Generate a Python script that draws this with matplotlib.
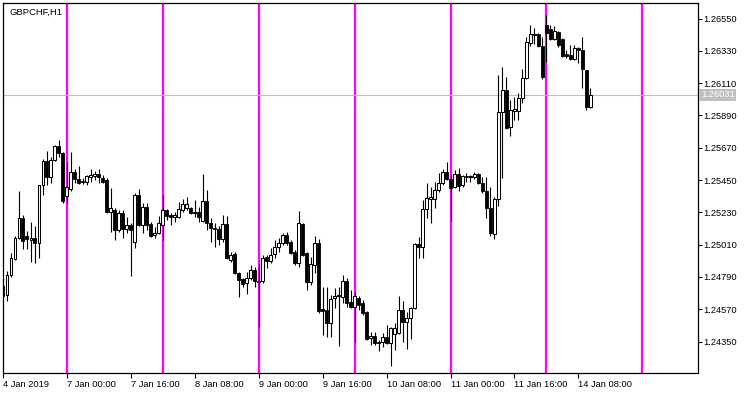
import numpy as np
import matplotlib
matplotlib.use("Agg")
import matplotlib.pyplot as plt
import matplotlib.transforms as mtransforms

plt.rcParams['font.family'] = ['Liberation Sans', 'DejaVu Sans']

# GBPCHF H1 bars, 4 Jan 2019 08:00 .. 14 Jan 2019 11:00
opens = [1.24728, 1.24667, 1.24803, 1.24912, 1.25055, 1.25191, 1.25069, 1.25042, 1.25055, 1.25021,
         1.25416, 1.25580, 1.25471, 1.25586, 1.25682, 1.25634, 1.25341, 1.25389, 1.25505, 1.25457,
         1.25443, 1.25437, 1.25471, 1.25477, 1.25491, 1.25464, 1.25450, 1.25232, 1.25246, 1.25110,
         1.25225, 1.25116, 1.25144, 1.25028, 1.25348, 1.25144, 1.25266, 1.25151, 1.25076, 1.25089,
         1.25144, 1.25246, 1.25212, 1.25198, 1.25198, 1.25246, 1.25260, 1.25260, 1.25225, 1.25232,
         1.25171, 1.25307, 1.25157, 1.25123, 1.25116, 1.25048, 1.25151, 1.24905, 1.24946, 1.24817,
         1.24776, 1.24749, 1.24783, 1.24837, 1.24762, 1.24762, 1.24926, 1.24899, 1.24946, 1.24994,
         1.25021, 1.25076, 1.25028, 1.24960, 1.24885, 1.25151, 1.24953, 1.24756, 1.24871, 1.25021,
         1.24572, 1.24565, 1.24476, 1.24647, 1.24660, 1.24653, 1.24762, 1.24619, 1.24585, 1.24647,
         1.24613, 1.24551, 1.24374, 1.24388, 1.24347, 1.24347, 1.24381, 1.24340, 1.24402, 1.24408,
         1.24565, 1.24483, 1.24510, 1.24578, 1.25014, 1.24994, 1.25253, 1.25321, 1.25321, 1.25382,
         1.25430, 1.25505, 1.25457, 1.25403, 1.25491, 1.25416, 1.25477, 1.25471, 1.25471, 1.25491,
         1.25430, 1.25375, 1.25260, 1.25083, 1.25321, 1.25913, 1.26063, 1.25811, 1.25920, 1.25920,
         1.26009, 1.26145, 1.26383, 1.26438, 1.26445, 1.26363, 1.26506, 1.26479, 1.26410, 1.26458,
         1.26410, 1.26308, 1.26301, 1.26274, 1.26349, 1.26336, 1.26199, 1.25947]
highs = [1.24742, 1.24830, 1.24953, 1.25069, 1.25375, 1.25212, 1.25103, 1.25164, 1.25137, 1.25416,
         1.25593, 1.25648, 1.25607, 1.25689, 1.25723, 1.25641, 1.25573, 1.25641, 1.25525, 1.25546,
         1.25464, 1.25484, 1.25525, 1.25512, 1.25525, 1.25484, 1.25464, 1.25396, 1.25260, 1.25246,
         1.25246, 1.25198, 1.25157, 1.25362, 1.25389, 1.25294, 1.25294, 1.25164, 1.25130, 1.25205,
         1.25348, 1.25253, 1.25225, 1.25232, 1.25300, 1.25321, 1.25334, 1.25266, 1.25314, 1.25266,
         1.25491, 1.25382, 1.25191, 1.25157, 1.25137, 1.25212, 1.25205, 1.24960, 1.24960, 1.24824,
         1.24783, 1.24824, 1.24871, 1.24858, 1.24878, 1.24939, 1.24939, 1.24987, 1.25042, 1.25055,
         1.25089, 1.25096, 1.25042, 1.24974, 1.25239, 1.25157, 1.24960, 1.24926, 1.25069, 1.25048,
         1.24721, 1.24721, 1.24667, 1.24715, 1.24721, 1.24803, 1.24783, 1.24701, 1.24688, 1.24660,
         1.24633, 1.24558, 1.24415, 1.24415, 1.24361, 1.24408, 1.24463, 1.24449, 1.24476, 1.24660,
         1.24626, 1.24551, 1.24585, 1.25021, 1.25062, 1.25314, 1.25430, 1.25403, 1.25437, 1.25498,
         1.25525, 1.25573, 1.25484, 1.25518, 1.25532, 1.25484, 1.25498, 1.25484, 1.25505, 1.25498,
         1.25471, 1.25471, 1.25403, 1.25334, 1.26165, 1.26220, 1.26152, 1.25995, 1.26015, 1.26043,
         1.26206, 1.26424, 1.26506, 1.26485, 1.26451, 1.26424, 1.26574, 1.26506, 1.26499, 1.26465,
         1.26417, 1.26336, 1.26370, 1.26370, 1.26356, 1.26424, 1.26199, 1.26077]
lows = [1.24647, 1.24626, 1.24790, 1.24905, 1.25048, 1.24980, 1.24980, 1.24892, 1.24885, 1.24919,
        1.25348, 1.25416, 1.25430, 1.25580, 1.25607, 1.25294, 1.25294, 1.25375, 1.25430, 1.25423,
        1.25423, 1.25416, 1.25437, 1.25450, 1.25430, 1.25430, 1.25225, 1.25096, 1.25042, 1.25096,
        1.25055, 1.25089, 1.24796, 1.24987, 1.25137, 1.25089, 1.25110, 1.25062, 1.25055, 1.25083,
        1.25042, 1.25178, 1.25144, 1.25164, 1.25191, 1.25232, 1.25246, 1.25219, 1.25198, 1.25164,
        1.25164, 1.25110, 1.25028, 1.24994, 1.25008, 1.25028, 1.24912, 1.24892, 1.24810, 1.24653,
        1.24721, 1.24674, 1.24769, 1.24721, 1.24449, 1.24749, 1.24851, 1.24885, 1.24919, 1.24960,
        1.25008, 1.25008, 1.24946, 1.24871, 1.24858, 1.24933, 1.24701, 1.24735, 1.24817, 1.24545,
        1.24395, 1.24381, 1.24381, 1.24578, 1.24320, 1.24613, 1.24585, 1.24578, 1.24347, 1.24565,
        1.24531, 1.24361, 1.24327, 1.24327, 1.24286, 1.24313, 1.24333, 1.24184, 1.24293, 1.24402,
        1.24347, 1.24299, 1.24367, 1.24572, 1.24919, 1.24919, 1.25191, 1.25157, 1.25260, 1.25368,
        1.25416, 1.25450, 1.25171, 1.25396, 1.25375, 1.25403, 1.25437, 1.25437, 1.25457, 1.25423,
        1.25362, 1.25191, 1.25069, 1.25048, 1.25273, 1.25464, 1.25797, 1.25750, 1.25859, 1.25859,
        1.25975, 1.26138, 1.26363, 1.26376, 1.26356, 1.26138, 1.26254, 1.26404, 1.26404, 1.26356,
        1.26288, 1.26281, 1.26267, 1.26267, 1.26247, 1.26077, 1.25927, 1.25940]
closes = [1.24660, 1.24803, 1.24919, 1.25055, 1.25191, 1.25035, 1.25048, 1.25055, 1.25021, 1.25416,
          1.25580, 1.25471, 1.25586, 1.25682, 1.25634, 1.25307, 1.25403, 1.25505, 1.25457, 1.25430,
          1.25437, 1.25477, 1.25484, 1.25491, 1.25471, 1.25437, 1.25232, 1.25260, 1.25110, 1.25225,
          1.25116, 1.25144, 1.25110, 1.25348, 1.25144, 1.25266, 1.25144, 1.25069, 1.25089, 1.25157,
          1.25246, 1.25205, 1.25198, 1.25212, 1.25253, 1.25287, 1.25287, 1.25225, 1.25232, 1.25198,
          1.25307, 1.25157, 1.25123, 1.25116, 1.25048, 1.25151, 1.24919, 1.24939, 1.24817, 1.24769,
          1.24742, 1.24783, 1.24837, 1.24762, 1.24756, 1.24919, 1.24899, 1.24939, 1.24994, 1.25021,
          1.25076, 1.25021, 1.24953, 1.24885, 1.25157, 1.24939, 1.24756, 1.24878, 1.25021, 1.24558,
          1.24558, 1.24476, 1.24640, 1.24660, 1.24667, 1.24762, 1.24613, 1.24585, 1.24660, 1.24599,
          1.24545, 1.24367, 1.24388, 1.24340, 1.24340, 1.24381, 1.24340, 1.24442, 1.24442, 1.24565,
          1.24483, 1.24510, 1.24578, 1.25014, 1.24994, 1.25253, 1.25328, 1.25334, 1.25382, 1.25430,
          1.25505, 1.25457, 1.25396, 1.25491, 1.25409, 1.25477, 1.25471, 1.25477, 1.25491, 1.25430,
          1.25375, 1.25260, 1.25089, 1.25321, 1.25913, 1.26063, 1.25804, 1.25927, 1.25934, 1.26009,
          1.26145, 1.26390, 1.26445, 1.26445, 1.26363, 1.26152, 1.26451, 1.26410, 1.26465, 1.26370,
          1.26295, 1.26295, 1.26274, 1.26349, 1.26336, 1.26206, 1.25947, 1.26031]

x_labels = ["4 Jan 2019", "7 Jan 00:00", "7 Jan 16:00", "8 Jan 08:00", "9 Jan 00:00",
            "9 Jan 16:00", "10 Jan 08:00", "11 Jan 00:00", "11 Jan 16:00", "14 Jan 08:00"]
x_label_bars = [0, 16, 32, 48, 64, 80, 96, 112, 128, 144]
day_bars = [16, 40, 64, 88, 112, 136, 160]   # midnight separators
y_ticks = [1.24350, 1.24570, 1.24790, 1.25010, 1.25230, 1.25450,
           1.25670, 1.25890, 1.26110, 1.26330, 1.26550]
last_price = 1.26031

o = np.array(opens); h = np.array(highs); l = np.array(lows); c = np.array(closes)
idx = np.arange(len(o))

fig = plt.figure(figsize=(7.5, 3.94), dpi=100)
ax = fig.add_axes([2.5 / 750, 1 - 372.5 / 394, 695 / 750, 370 / 394])

# day separators
for d in day_bars:
    ax.axvline(d, color='#ff00ff', lw=1.6, zorder=1)
ax.axhline(last_price, color='#c0c0c0', lw=0.8, zorder=1.5)

# candles
ax.vlines(idx, l, h, color='black', lw=0.8, zorder=2)
up = c >= o
body_lo = np.minimum(o, c)
body_h = np.maximum(np.abs(c - o), 0.000015)
ax.bar(idx[up], body_h[up], bottom=body_lo[up], width=0.68, color='white',
       edgecolor='black', linewidth=0.75, zorder=3)
ax.bar(idx[~up], body_h[~up], bottom=body_lo[~up], width=0.75, color='black',
       edgecolor='black', linewidth=0.6, zorder=3)

ax.set_xlim(-0.1, 173.8)
ax.set_ylim(1.241389, 1.26659)

for s in ax.spines.values():
    s.set_linewidth(0.9)
    s.set_color('black')

ax.yaxis.tick_right()
ax.set_yticks(y_ticks)
ax.set_yticklabels([f"{v:.5f}" for v in y_ticks])
ax.tick_params(axis='y', direction='out', length=3, width=0.8, pad=1.5, labelsize=6.7)
ax.set_xticks(x_label_bars)
ax.set_xticklabels(x_labels)
for t in ax.get_xticklabels():
    t.set_horizontalalignment('left')
ax.tick_params(axis='x', direction='out', length=3.5, width=0.8, pad=2, labelsize=6.7)

# current price tag
trans = mtransforms.blended_transform_factory(ax.transAxes, ax.transData)
ax.text(1 + 3.5 / 695, last_price, "1.26031", transform=trans, fontsize=6.7, color='white',
        va='center', ha='left', bbox=dict(facecolor='#c0c0c0', edgecolor='none', pad=1.2),
        clip_on=False, zorder=5)

ax.text(7 / 695, 1 - 10 / 370, "GBPCHF,H1", transform=ax.transAxes, fontsize=6.8,
        va='center', ha='left')

fig.savefig("out.png", dpi=100)
